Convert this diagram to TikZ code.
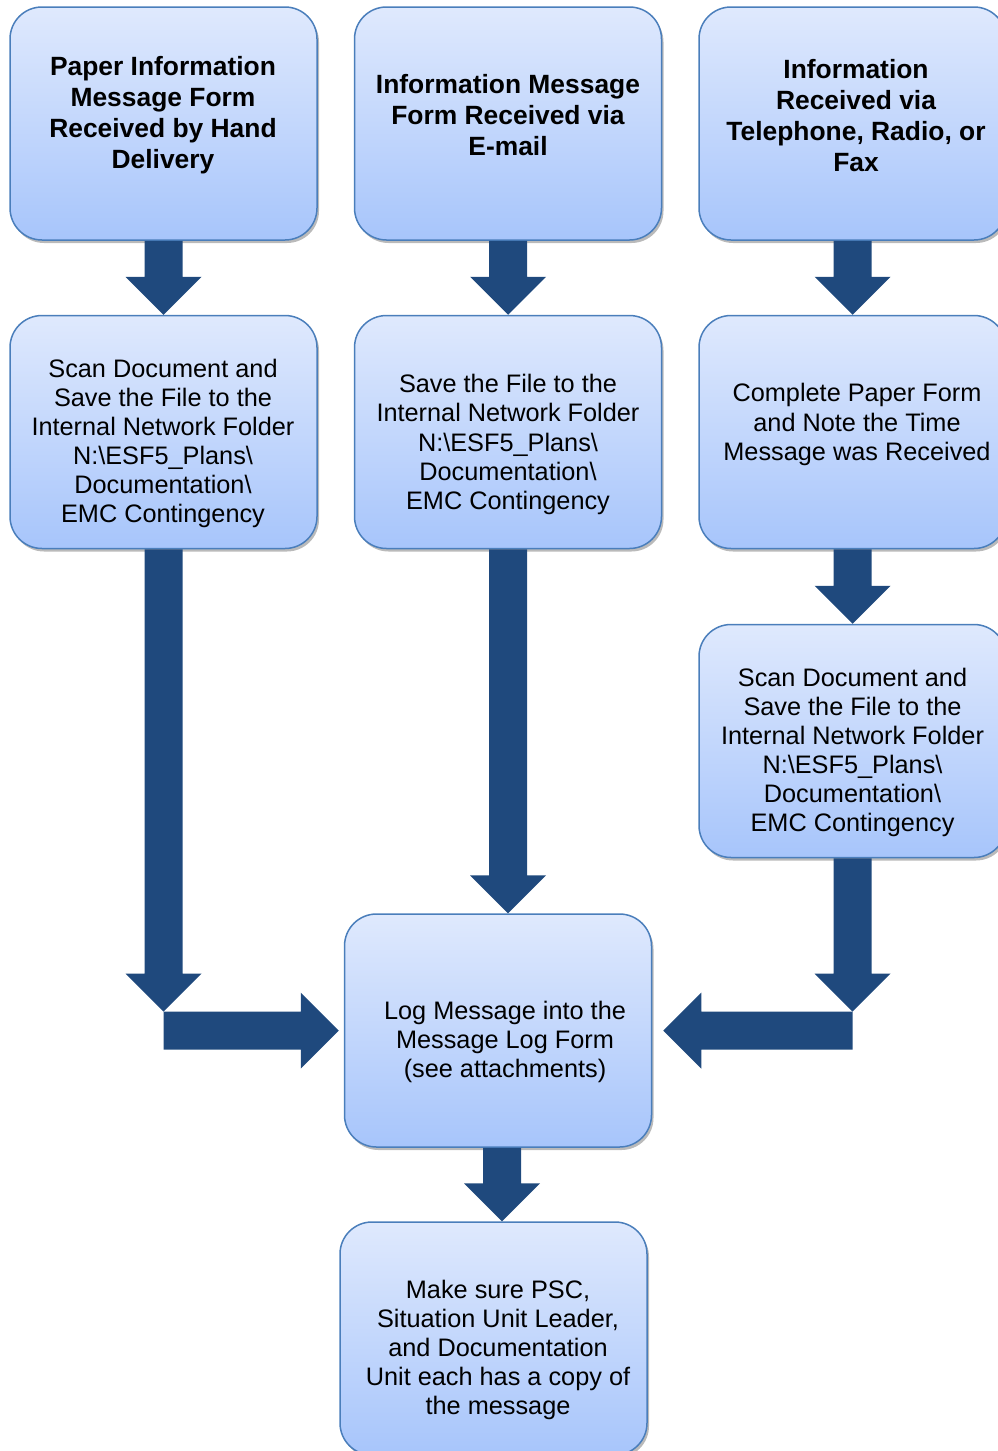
\documentclass[tikz,border=0pt]{standalone}
\usepackage{fontspec}
\setmainfont{Liberation Sans}
\usetikzlibrary{shadows,calc}
\definecolor{arrowblue}{HTML}{1F497D}
\definecolor{boxtop}{HTML}{DFE9FD}
\definecolor{boxbot}{HTML}{A7C5FB}
\definecolor{boxline}{HTML}{4A7EBB}
\tikzset{
  flowbox/.style={rectangle, rounded corners=32pt, minimum width=307pt, minimum height=233pt,
    draw=boxline, line width=1.5pt, top color=boxtop, bottom color=boxbot,
    drop shadow={shadow xshift=2pt, shadow yshift=-3pt, opacity=0.45, fill=black!60}},
  boldtxt/.style={align=center, font=\bfseries\fontsize{26.4}{31}\selectfont, inner sep=0pt},
  plaintxt/.style={align=center, font=\fontsize{25.3}{29.1}\selectfont, inner sep=0pt},
  arrowfill/.style={fill=arrowblue}
}
\newcommand{\blockdown}[2]{\fill[arrowfill] let \p1=(#1), \p2=(#2) in
  (\x1-19pt,\y1) -- (\x1+19pt,\y1) -- (\x1+19pt,\y2+38pt) -- (\x1+38pt,\y2+38pt) --
  (\x1,\y2) -- (\x1-38pt,\y2+38pt) -- (\x1-19pt,\y2+38pt) -- cycle;}
\newcommand{\blockright}[2]{\fill[arrowfill] let \p1=(#1), \p2=(#2) in
  (\x1,\y1+19pt) -- (\x2-38pt,\y1+19pt) -- (\x2-38pt,\y1+38pt) -- (\x2,\y1) --
  (\x2-38pt,\y1-38pt) -- (\x2-38pt,\y1-19pt) -- (\x1,\y1-19pt) -- cycle;}
\newcommand{\blockleft}[2]{\fill[arrowfill] let \p1=(#1), \p2=(#2) in
  (\x1,\y1+19pt) -- (\x2+38pt,\y1+19pt) -- (\x2+38pt,\y1+38pt) -- (\x2,\y1) --
  (\x2+38pt,\y1-38pt) -- (\x2+38pt,\y1-19pt) -- (\x1,\y1-19pt) -- cycle;}
\begin{document}
\begin{tikzpicture}[x=1pt,y=-1pt]
\useasboundingbox (0,0) rectangle (998,1451);
% boxes
\node[flowbox] (A)   at (163.5,123.5) {};
\node[flowbox] (B)   at (508,123.5) {};
\node[flowbox] (C)   at (852.5,123.5) {};
\node[flowbox] (A2)  at (163.5,432) {};
\node[flowbox] (B2)  at (508,432) {};
\node[flowbox] (C2)  at (852.5,432) {};
\node[flowbox] (C3)  at (852.5,741) {};
\node[flowbox] (Log) at (498,1030.5) {};
\node[flowbox] (Fin) at (493.5,1338.5) {};
% texts
\node[boldtxt] (tA) at (163,115.5) {Paper Information\\Message Form\\Received by Hand\\Delivery};
\node[boldtxt] (tB) at (508,115) {Information Message\\Form Received via\\E-mail};
\node[boldtxt] (tC) at (856,115.5) {Information\\Received via\\Telephone, Radio, or\\Fax};
\node[plaintxt] (tA2) at (163,443.5) {Scan Document and\\Save the File to the\\Internal Network Folder\\N:\textbackslash ESF5\_Plans\textbackslash\\Documentation\textbackslash\\EMC Contingency};
\node[plaintxt] (tB2) at (508,444.5) {Save the File to the\\Internal Network Folder\\N:\textbackslash ESF5\_Plans\textbackslash\\Documentation\textbackslash\\EMC Contingency};
\node[plaintxt] (tC2) at (857,424.5) {Complete Paper Form\\and Note the Time\\Message was Received};
\node[plaintxt] (tC3) at (852.5,752.5) {Scan Document and\\Save the File to the\\Internal Network Folder\\N:\textbackslash ESF5\_Plans\textbackslash\\Documentation\textbackslash\\EMC Contingency};
\node[plaintxt] (tLog) at (505,1042) {Log Message into the\\Message Log Form\\(see attachments)};
\node[plaintxt] (tFin) at (498,1350) {Make sure PSC,\\Situation Unit Leader,\\and Documentation\\Unit each has a copy of\\the message};
% junction coordinates
\coordinate (jl) at (A2.south |- Log.west);
\coordinate (jr) at (C3.south |- Log.east);
% arrows
\blockdown{A.south}{A2.north}
\blockdown{B.south}{B2.north}
\blockdown{C.south}{C2.north}
\blockdown{C2.south}{C3.north}
\blockdown{B2.south}{B2.south |- Log.north}
\blockdown{A2.south}{$(jl)+(0,-19)$}
\blockright{jl}{$(Log.west)+(-5,0)$}
\blockdown{C3.south}{$(jr)+(0,-19)$}
\blockleft{jr}{$(Log.east)+(11,0)$}
\blockdown{$(Log.south)+(4,0)$}{$(Log.south |- Fin.north)+(4,0)$}
\end{tikzpicture}
\end{document}
